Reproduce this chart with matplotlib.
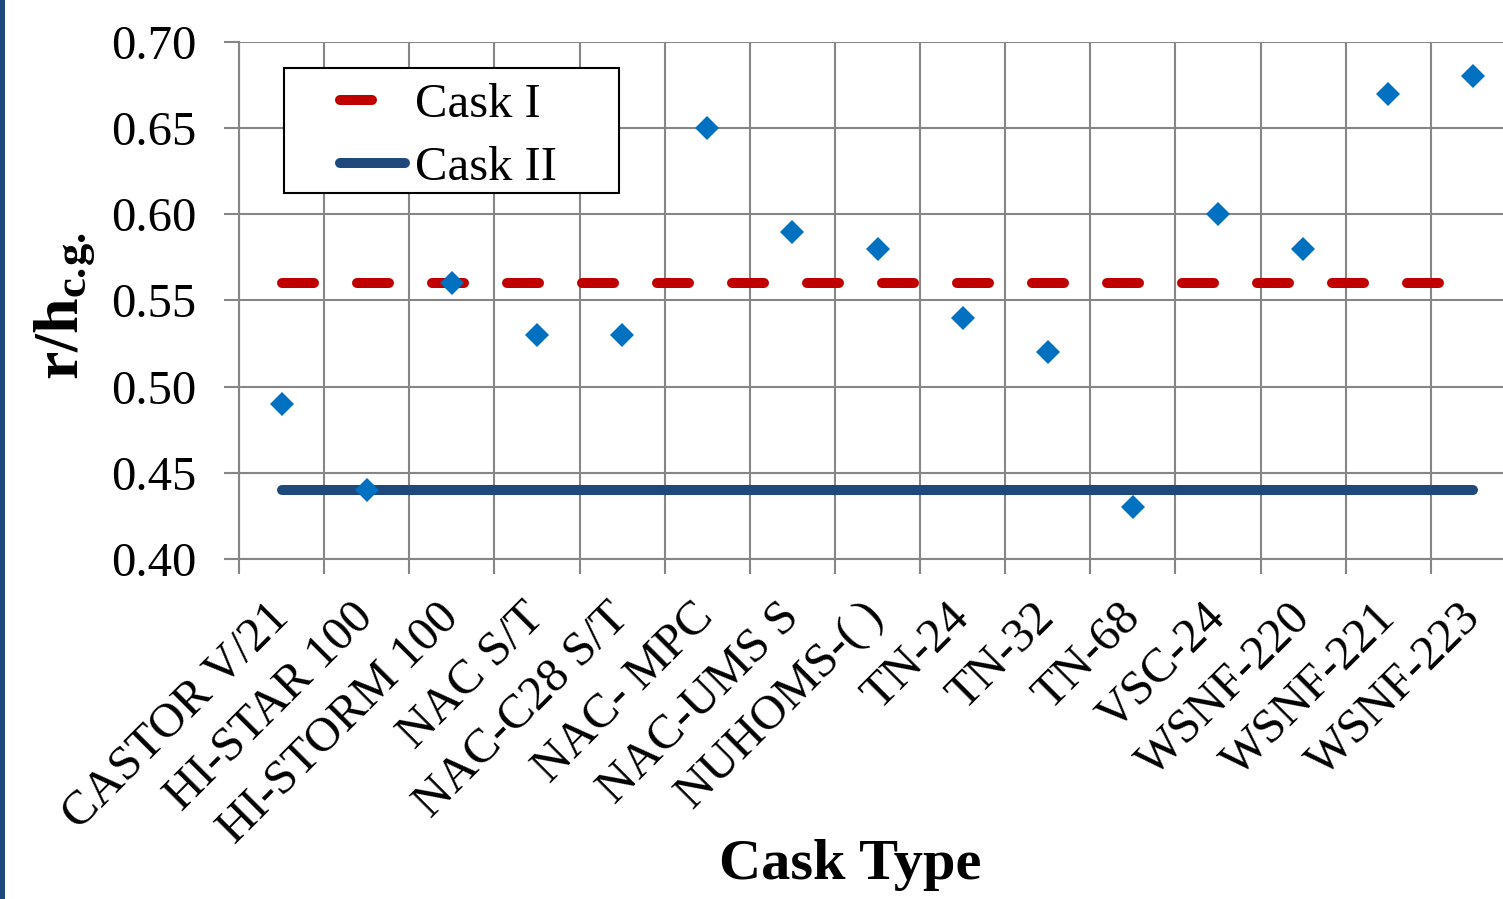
import matplotlib
matplotlib.use("Agg")
import matplotlib.pyplot as plt
from matplotlib.patches import Rectangle

# ---- data ----
casks = ["CASTOR V/21", "HI-STAR 100", "HI-STORM 100", "NAC S/T", "NAC-C28 S/T",
         "NAC- MPC", "NAC-UMS S", "NUHOMS-( )", "TN-24", "TN-32", "TN-68",
         "VSC-24", "WSNF-220", "WSNF-221", "WSNF-223"]
ratio = [0.49, 0.44, 0.56, 0.53, 0.53, 0.65, 0.59, 0.58, 0.54, 0.52, 0.43,
         0.60, 0.58, 0.67, 0.68]
cask1_limit = [0.56] * len(casks)
cask2_limit = [0.44] * len(casks)
yticks = [0.40, 0.45, 0.50, 0.55, 0.60, 0.65, 0.70]

plt.rcParams['font.family'] = ['Liberation Serif', 'DejaVu Serif']
plt.rcParams['mathtext.fontset'] = 'custom'
plt.rcParams['mathtext.rm'] = 'Liberation Serif'
plt.rcParams['mathtext.bf'] = 'Liberation Serif:bold'

W, H = 1503, 899
fig = plt.figure(figsize=(W / 100, H / 100), dpi=100)
ax = fig.add_axes([239 / W, 1 - 559 / H, 1277 / W, 517 / H])

grey = '#868686'
x = list(range(len(casks)))

l1, = ax.plot(x, cask1_limit, color='#C00000', lw=7.2, solid_capstyle='round',
              dash_capstyle='round', label='Cask I', zorder=3)
l1.set_dashes((3.2, 4.3))
l2, = ax.plot(x, cask2_limit, color='#1F497D', lw=7.2, solid_capstyle='round',
              label='Cask II', zorder=3)
ax.plot(x, ratio, linestyle='none', marker='D', ms=12, color='#0070C0',
        mew=0, zorder=4)

ax.set_xlim(-0.5, len(casks) - 0.5)
ax.set_ylim(0.40, 0.70)
ax.set_yticks(yticks)
ax.set_yticklabels([f"{v:.2f}" for v in yticks])
ax.set_xticks(x)
ax.set_xticklabels(casks, rotation=45, ha='right', va='center',
                   rotation_mode='anchor')
ax.set_xticks([i - 0.5 for i in range(len(casks) + 1)], minor=True)

ax.tick_params(axis='x', which='major', length=0, pad=37, labelsize=35)
ax.tick_params(axis='x', which='minor', length=10.8, width=1.5, color=grey)
ax.tick_params(axis='y', length=10.8, width=1.5, color=grey, pad=20, labelsize=35)

ax.grid(True, which='minor', axis='x', color=grey, lw=1.5)
ax.grid(True, which='major', axis='y', color=grey, lw=1.5)
ax.set_axisbelow(True)
for s in ['top', 'right']:
    ax.spines[s].set_visible(False)
for s in ['left', 'bottom']:
    ax.spines[s].set_color(grey)
    ax.spines[s].set_linewidth(1.5)

ax.set_ylabel(r'$\mathbf{r/h_{c.\!g.}}$', fontsize=46)
ax.yaxis.set_label_coords(-0.111, 0.49)
fig.text(850 / W, 1 - 865 / H, 'Cask Type', fontsize=42, fontweight='bold',
         ha='center', va='center')

# legend with a manual frame
frame = Rectangle((284 / W, 1 - 193 / H), 335 / W, 125 / H,
                  transform=fig.transFigure, facecolor='white',
                  edgecolor='black', lw=1.5, zorder=5, clip_on=False)
ax.add_patch(frame)
leg = ax.legend(handles=[l1, l2], loc='upper left', frameon=False,
                bbox_to_anchor=(340 / W, 1 - 83 / H), bbox_transform=fig.transFigure,
                borderpad=0, borderaxespad=0, handlelength=1.34, handletextpad=0.2,
                labelspacing=0.39, fontsize=35)
leg.set_zorder(6)

# left border stripe
fig.add_artist(Rectangle((0, 0), 5 / W, 1, transform=fig.transFigure,
                         color='#1F497D', lw=0))

fig.savefig('out.png', dpi=100)
